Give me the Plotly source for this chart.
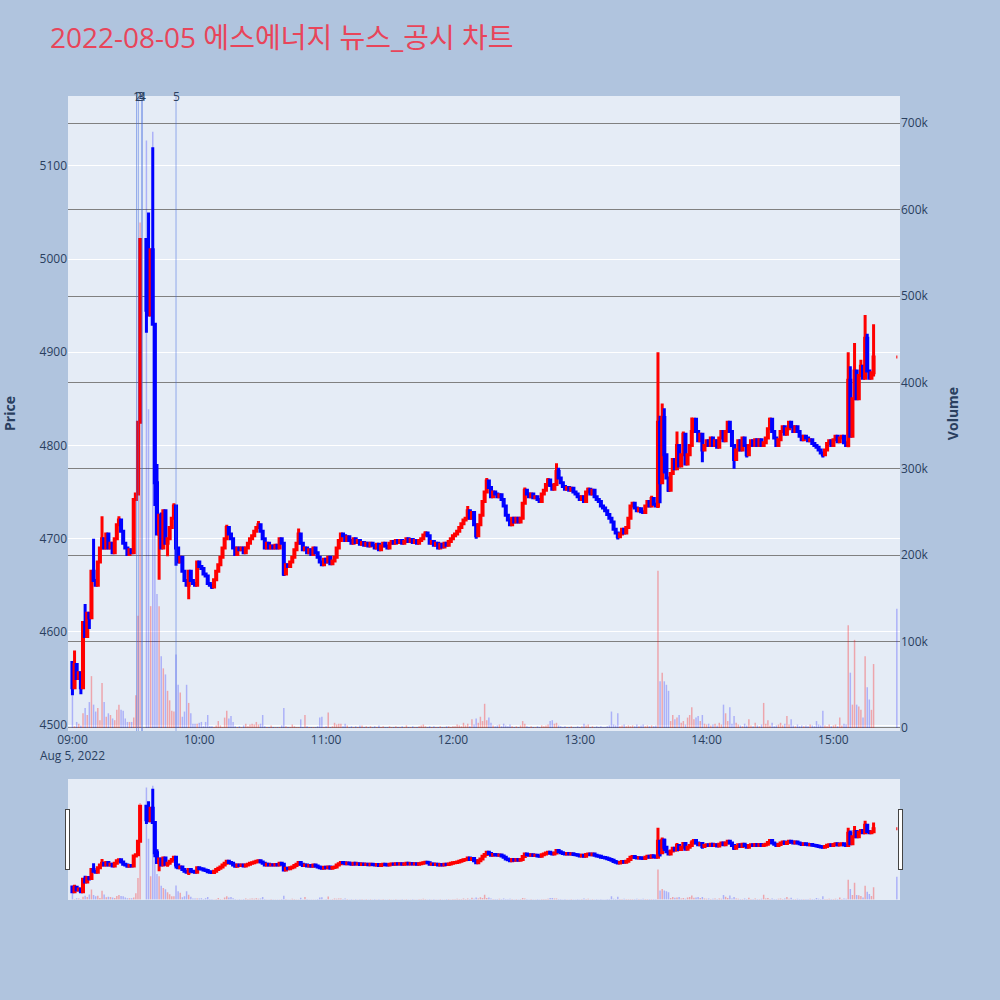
import pandas as pd
import plotly.graph_objects as go
from plotly.subplots import make_subplots

TITLE = "2022-08-05 에스에너지 뉴스_공시 차트"
SESSION_DAY = "2022-08-05"
SESSION_START = "09:00"

# 1-minute closes from 09:00 (index = minutes after 09:00); None = no trade (VI halt)
CLOSE = [
    4540, 4565, 4550, 4556, 4540, 4610, 4595, 4620, 4615, 4665,
    4655, 4650, 4675, 4690, 4700, 4690, 4705, 4690, 4695, 4685,
    4700, 4715, 4720, 4708, 4695, 4690, 4683, 4688, 4685, 4742,
    4748, 4825, 5021, None, None, 4945, 4940, 5010, 4930, 4760,
    4705, 4725, 4690, 4730, 4695, 4700, 4712, 4722, 4735, 4690,
    4675, 4680, 4665, 4655, 4650, 4665, 4655, 4652, 4650, 4675,
    4670, 4668, 4662, 4660, 4652, 4650, 4648, 4656, 4665, 4672,
    4680, 4690, 4700, 4712, 4705, 4700, 4690, 4683, 4690, 4688,
    4690, 4685, 4690, 4695, 4700, 4703, 4708, 4712, 4715, 4708,
    4700, 4690, 4695, 4690, 4692, 4690, 4693, 4690, 4700, 4695,
    4662, 4672, 4670, 4675, 4680, 4688, 4695, 4705, 4695, 4688,
    4690, 4685, 4688, 4683, 4690, 4685, 4680, 4675, 4672, 4678,
    4675, 4680, 4673, 4676, 4680, 4690, 4698, 4705, 4703, 4698,
    4702, 4698, 4695, 4700, 4696, 4698, 4694, 4696, 4693, 4695,
    4692, 4695, 4693, 4690, 4694, 4688, 4692, 4695, 4692, 4690,
    4695, 4697, 4695, 4698, 4696, 4698, 4695, 4697, 4700, 4697,
    4699, 4696, 4698, 4695, 4698, 4700, 4704, 4706, 4703, 4695,
    4697, 4693, 4695, 4690, 4694, 4691, 4695, 4693, 4697, 4700,
    4703, 4705, 4708, 4712, 4716, 4720, 4722, 4730, 4722, 4728,
    4715, 4703, 4715, 4725, 4740, 4750, 4762, 4755, 4745, 4750,
    4748, 4745, 4747, 4742, 4735, 4725, 4720, 4715, 4722, 4718,
    4722, 4718, 4722, 4738, 4752, 4748, 4745, 4748, 4744, 4745,
    4742, 4740, 4748, 4752, 4758, 4763, 4757, 4753, 4758, 4772,
    4765, 4760, 4756, 4753, 4755, 4752, 4754, 4750, 4748, 4745,
    4742, 4745, 4740, 4750, 4753, 4748, 4752, 4745, 4742, 4740,
    4735, 4733, 4730, 4726, 4722, 4718, 4710, 4706, 4702, 4705,
    4710, 4706, 4712, 4722, 4735, 4738, 4733, 4730, 4732, 4729,
    4728, 4735, 4740, 4735, 4743, 4737, 4735, 4825, 4760, 4830,
    4790, 4765, 4752, 4770, 4785, 4775, 4800, 4778, 4790, 4812,
    4780, 4790, 4800, 4815, 4828, 4815, 4805, 4812, 4795, 4800,
    4805, 4800, 4808, 4800, 4805, 4798, 4808, 4815, 4805, 4815,
    4825, 4815, 4800, 4785, 4795, 4805, 4795, 4808, 4800, 4790,
    4800, 4805, 4800, 4806, 4800, 4806, 4800, 4803, 4808, 4818,
    4828, 4815, 4808, 4800, 4806, 4815, 4820, 4812, 4818, 4825,
    4820, 4815, 4820, 4815, 4810, 4806, 4810, 4808, 4805, 4806,
    4802, 4800, 4798, 4795, 4792, 4790, 4795, 4802, 4805, 4800,
    4806, 4810, 4804, 4808, 4810, 4803, 4800, 4870, 4810, 4850,
    4880, 4850, 4875, 4885, 4872, 4915, 4880, 4872, 4878, 4895,
]

# 1-minute volume in thousands of shares (same index as CLOSE)
VOLUME_K = [
    38, 2, 7, 5, 3, 17, 23, 15, 30, 60,
    27, 19, 23, 9, 52, 30, 13, 17, 15, 11,
    9, 21, 27, 21, 20, 11, 7, 7, 7, 12,
    38, 130, 585, None, None, 680, 369, 141, 690, 322,
    155, 141, 83, 69, 62, 43, 32, 20, 19, 85,
    50, 41, 13, 19, 50, 29, 17, 5, 5, 5,
    6, 7, 2, 7, 15, 2, 2, 1, 3, 8,
    3, 1, 12, 20, 11, 14, 7, 2, 1, 2,
    1, 3, 5, 2, 4, 5, 4, 7, 4, 5,
    15, 2, 1, 1, 3, 1, 1, 1, 1, 3,
    23, 2, 1, 1, 4, 2, 1, 1, 10, 1,
    15, 2, 1, 1, 1, 1, 2, 12, 13, 1,
    2, 18, 1, 2, 6, 4, 5, 5, 2, 5,
    3, 1, 2, 1, 2, 1, 3, 3, 1, 2,
    1, 2, 1, 2, 1, 3, 1, 2, 1, 1,
    2, 1, 1, 2, 1, 1, 2, 1, 3, 1,
    1, 2, 1, 1, 2, 3, 4, 2, 1, 2,
    1, 2, 1, 1, 2, 1, 1, 2, 2, 1,
    2, 2, 4, 3, 2, 6, 3, 5, 2, 10,
    4, 11, 6, 13, 8, 28, 9, 12, 6, 3,
    2, 3, 4, 2, 5, 3, 2, 4, 2, 1,
    2, 1, 3, 8, 5, 2, 1, 2, 1, 1,
    2, 1, 3, 2, 3, 4, 8, 9, 5, 6,
    3, 2, 1, 2, 1, 1, 2, 1, 1, 2,
    1, 2, 5, 3, 4, 1, 2, 1, 2, 1,
    2, 1, 1, 2, 3, 19, 4, 3, 17, 2,
    3, 4, 2, 3, 2, 3, 2, 4, 2, 3,
    4, 2, 3, 2, 3, 2, 3, 182, 54, 64,
    54, 50, 43, 8, 15, 10, 12, 15, 6, 8,
    4, 12, 15, 24, 10, 12, 14, 8, 15, 5,
    4, 5, 3, 4, 5, 3, 6, 4, 27, 17,
    8, 24, 5, 14, 6, 4, 3, 2, 5, 3,
    10, 3, 2, 6, 3, 2, 4, 29, 5, 9,
    3, 6, 2, 3, 4, 6, 3, 5, 14, 4,
    10, 3, 2, 4, 2, 3, 2, 3, 2, 4,
    3, 2, 8, 4, 3, 20, 3, 2, 4, 2,
    3, 4, 2, 12, 3, 5, 4, 119, 64, 27,
    102, 27, 25, 21, 12, 83, 47, 33, 21, 74,
]

# opens that differ from the previous close (first trade, re-open after VI)
OPEN_OVERRIDE = {0: 4567, 35: 5021}
# wick extremes
HIGH_WICK = {0: 4567, 1: 4580, 6: 4630, 10: 4700, 14: 4724, 22: 4724, 36: 5050, 38: 5120,
             40: 4780, 42: 4728, 48: 4738, 73: 4715, 88: 4719, 107: 4711, 167: 4708,
             187: 4735, 196: 4765, 214: 4755, 225: 4765, 229: 4781, 230: 4776, 244: 4755,
             274: 4746, 277: 4900, 278: 4832, 279: 4845, 280: 4840, 286: 4815, 289: 4815,
             293: 4830, 310: 4826, 330: 4830, 367: 4900, 368: 4885, 370: 4910, 373: 4892,
             375: 4940, 376: 4920, 379: 4930}
LOW_WICK = {0: 4532, 4: 4533, 8: 4603, 35: 4921, 39: 4735, 41: 4656, 45: 4681, 49: 4671,
            55: 4635, 66: 4646, 100: 4660, 145: 4687, 191: 4700, 258: 4699, 277: 4733,
            278: 4738, 280: 4770, 282: 4750, 298: 4782, 313: 4775, 319: 4787, 355: 4787,
            367: 4798, 379: 4874}

CLOSING_AUCTION_TIME = "15:30"
CLOSING_AUCTION_PRICE = 4895
CLOSING_AUCTION_VOLUME_K = 138

NEWS_TIMES = ["09:30:20", "09:31:10", "09:32:50", "09:33:00", "09:49:00"]
NEWS_LABELS = ["1", "2", "3", "4", "5"]

PRICE_RANGE = [4493.6, 5175]
VOLUME_RANGE = [-3500, 731500]
X_RANGE = ["08:57:54", "15:31:30"]

# ---------------------------------------------------------------- build OHLC
start = pd.Timestamp(f"{SESSION_DAY} {SESSION_START}")
times, opens, highs, lows, closes, vols = [], [], [], [], [], []
prev = None
for i, c in enumerate(CLOSE):
    if c is None:
        prev = None
        continue
    o = OPEN_OVERRIDE.get(i, prev if prev is not None else c)
    h = max(o, c, HIGH_WICK.get(i, c))
    l = min(o, c, LOW_WICK.get(i, c))
    times.append(start + pd.Timedelta(minutes=i))
    opens.append(o); highs.append(h); lows.append(l); closes.append(c)
    vols.append(VOLUME_K[i] * 1000)
    prev = c

times.append(pd.Timestamp(f"{SESSION_DAY} {CLOSING_AUCTION_TIME}"))
opens.append(CLOSING_AUCTION_PRICE); highs.append(CLOSING_AUCTION_PRICE)
lows.append(CLOSING_AUCTION_PRICE); closes.append(CLOSING_AUCTION_PRICE)
vols.append(CLOSING_AUCTION_VOLUME_K * 1000)

vol_colors = ["rgba(255,0,0,0.3)" if c > o else "rgba(0,0,255,0.25)"
              for o, c in zip(opens, closes)]

fig = make_subplots(specs=[[{"secondary_y": True}]])
fig.add_trace(go.Candlestick(
    x=times, open=opens, high=highs, low=lows, close=closes, name="Price",
    increasing=dict(line=dict(color="red", width=3), fillcolor="red"),
    decreasing=dict(line=dict(color="blue", width=3), fillcolor="blue"),
    showlegend=False), secondary_y=False)
fig.add_trace(go.Bar(x=times, y=vols, name="Volume", marker=dict(color=vol_colors, line=dict(width=0)),
                     showlegend=False), secondary_y=True)

for t, lab in zip(NEWS_TIMES, NEWS_LABELS):
    ts = pd.Timestamp(f"{SESSION_DAY} {t}")
    fig.add_shape(type="line", xref="x", yref="paper", x0=ts, x1=ts, y0=0, y1=1,
                  line=dict(color="royalblue", width=1), opacity=0.5)
    fig.add_annotation(x=ts, y=1, xref="x", yref="paper", text=lab, showarrow=False,
                       yanchor="middle", xanchor="center",
                       font=dict(size=12, color="#2a3f5f"))

fig.update_layout(
    width=1000, height=1000,
    paper_bgcolor="#B0C4DE",
    plot_bgcolor="#E5ECF6",
    font=dict(family="Open Sans, Noto Sans CJK KR, sans-serif"),
    title=dict(text=TITLE, x=0.05, xanchor="left",
               font=dict(size=28, color="#E8455A", family="Open Sans, Noto Sans CJK KR, sans-serif")),
    margin=dict(l=68, r=100, t=96, b=269, autoexpand=False),
    showlegend=False,
    bargap=0.3,
)
fig.update_xaxes(
    domain=[0, 1],
    range=[f"{SESSION_DAY} {X_RANGE[0]}", f"{SESSION_DAY} {X_RANGE[1]}"],
    showgrid=False,
    rangeslider=dict(visible=True, thickness=0.19),
)
fig.update_yaxes(title=dict(text="<b>Price</b>", standoff=20), range=PRICE_RANGE, showgrid=True,
                 gridcolor="white", secondary_y=False)
fig.update_yaxes(title=dict(text="<b>Volume</b>", standoff=20), range=VOLUME_RANGE, showgrid=True,
                 gridcolor="gray", zeroline=False, secondary_y=True)

fig.write_html("out.html", config={"displayModeBar": False},
               post_script="document.body.style.margin='0px';")
